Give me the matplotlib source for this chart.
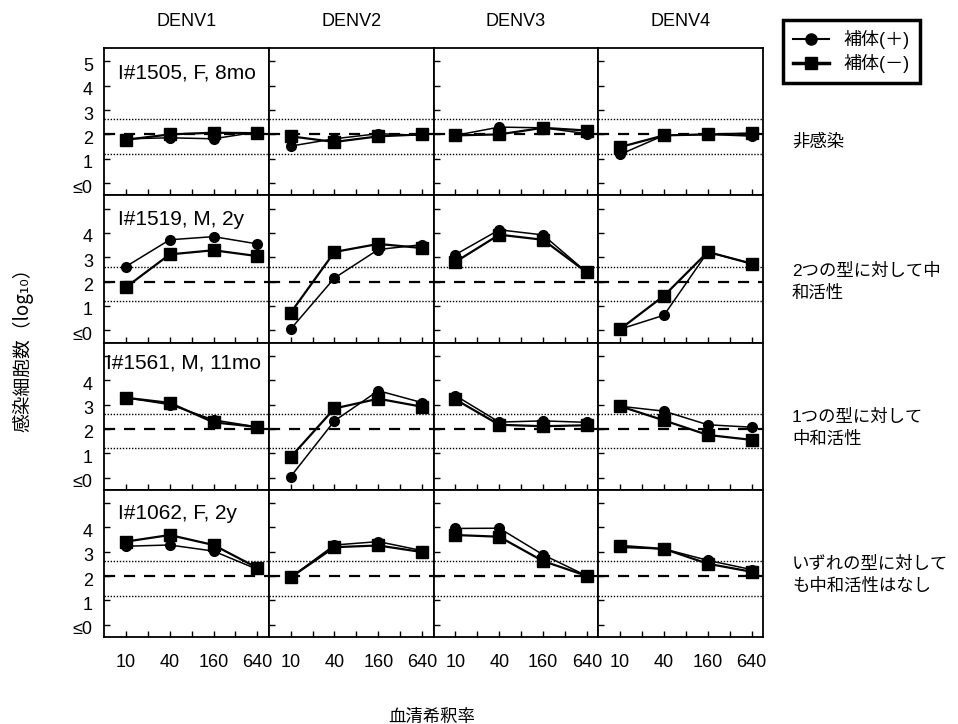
import matplotlib
matplotlib.use('Agg')
import matplotlib.pyplot as plt
from matplotlib.lines import Line2D
from matplotlib.transforms import ScaledTranslation

plt.rcParams['font.family'] = ['Liberation Sans', 'Noto Sans CJK JP', 'DejaVu Sans']

# ---- data ----
dilutions = ['10', '40', '160', '640']
serotypes = ['DENV1', 'DENV2', 'DENV3', 'DENV4']
patients = ['I#1505, F, 8mo', 'I#1519, M, 2y', 'I#1561, M, 11mo', 'I#1062, F, 2y']
row_notes = ['非感染', '2つの型に対して中\n和活性', '1つの型に対して\n中和活性',
             'いずれの型に対して\nも中和活性はなし']
legend_labels = ['補体(＋)', '補体(－)']
ytick_vals = [0, 1, 2, 3, 4, 5]
ytick_labels_top = ['≤0', '1', '2', '3', '4', '5']
ytick_labels_rest = ['≤0', '1', '2', '3', '4', '']
cutoff = 2.0
band_hi = 2.62
band_lo = 1.2

# complement (+) : circles ; complement (-) : squares ; per serotype DENV1..4
plus_1505 = [[1.82, 1.86, 1.82, 2.10], [1.52, 1.82, 2.03, 1.96],
             [1.96, 2.30, 2.27, 2.03], [1.18, 1.96, 2.00, 1.93]]
minus_1505 = [[1.78, 2.00, 2.07, 2.05], [1.92, 1.69, 1.92, 2.00],
              [1.96, 2.00, 2.27, 2.16], [1.48, 1.96, 2.00, 2.04]]

plus_1519 = [[2.62, 3.72, 3.85, 3.55], [0.05, 2.15, 3.32, 3.52],
             [3.11, 4.13, 3.92, 2.38], [0.05, 0.62, 3.22, 2.74]]
minus_1519 = [[1.77, 3.12, 3.29, 3.05], [0.72, 3.22, 3.55, 3.38],
              [2.81, 3.93, 3.72, 2.38], [0.05, 1.42, 3.22, 2.74]]

plus_1561 = [[3.28, 3.00, 2.37, 2.08], [0.04, 2.33, 3.57, 3.08],
             [3.37, 2.28, 2.33, 2.27], [2.93, 2.73, 2.17, 2.07]]
minus_1561 = [[3.28, 3.07, 2.27, 2.08], [0.84, 2.84, 3.24, 2.91],
              [3.21, 2.17, 2.11, 2.15], [2.93, 2.35, 1.75, 1.55]]

plus_1062 = [[3.23, 3.28, 3.03, 2.28], [1.95, 3.28, 3.42, 3.05],
             [3.96, 3.97, 2.88, 2.01], [3.18, 3.12, 2.65, 2.27]]
minus_1062 = [[3.42, 3.69, 3.28, 2.34], [1.95, 3.19, 3.26, 2.99],
              [3.69, 3.62, 2.62, 2.01], [3.25, 3.12, 2.51, 2.18]]

plus_rows = [plus_1505, plus_1519, plus_1561, plus_1062]
minus_rows = [minus_1505, minus_1519, minus_1561, minus_1062]

# ---- figure ----
W, H = 958, 724
fig = plt.figure(figsize=(W / 100, H / 100), dpi=100)
left, right, top, bottom = 104 / W, 763 / W, 1 - 48 / H, 1 - 637 / H
gs = fig.add_gridspec(4, 4, left=left, right=right, top=top, bottom=bottom,
                      wspace=0, hspace=0)

xpos = list(range(len(dilutions)))
label_y = [0.83, 0.835, 0.86, 0.84]
label_x = [0.085, 0.085, 0.01, 0.085]
shift_down = ScaledTranslation(0, -3 / 100, fig.dpi_scale_trans)

for r in range(4):
    for c in range(4):
        ax = fig.add_subplot(gs[r, c])
        ax.set_xlim(-0.5, 3.26)
        ax.set_ylim(-0.5, 5.55)
        ax.axhline(cutoff, color='black', lw=1.6, ls=(0, (5, 4)), zorder=1)
        ax.axhline(band_hi, color='black', lw=1.0, ls=(0, (1, 1.2)), zorder=1)
        ax.axhline(band_lo, color='black', lw=1.0, ls=(0, (1, 1.2)), zorder=1)
        ax.plot(xpos, plus_rows[r][c], color='black', lw=1.1, marker='o',
                ms=7, zorder=3)
        ax.plot(xpos, minus_rows[r][c], color='black', lw=1.6, marker='s',
                ms=8, zorder=3)
        for s in ax.spines.values():
            s.set_linewidth(1.3)
        ax.set_xticks(xpos)
        ax.set_xticks([0.5, 1.5, 2.5], minor=True)
        ax.set_yticks(ytick_vals)
        ax.tick_params(axis='both', which='both', direction='in', length=4,
                       width=1.0, top=False, right=False, labelsize=13)
        if c == 0:
            ax.set_yticklabels(ytick_labels_top if r == 0 else ytick_labels_rest)
            ax.tick_params(axis='y', pad=8)
            for lab in ax.get_yticklabels():
                lab.set_transform(lab.get_transform() + shift_down)
        else:
            ax.set_yticklabels([])
        if r == 3:
            ax.set_xticklabels(dilutions)
            ax.tick_params(axis='x', pad=12)
        else:
            ax.set_xticklabels([])
        if c == 0:
            ax.text(label_x[r], label_y[r], patients[r], transform=ax.transAxes,
                    fontsize=15, ha='left', va='center')
        if r == 0:
            ax.text(0.5, 1 + 26 / 147, serotypes[c], transform=ax.transAxes,
                    fontsize=13, ha='center', va='center')

# right-hand notes
note_y = [142, 282, 428, 575]
for r in range(4):
    fig.text(792 / W, 1 - note_y[r] / H, row_notes[r], fontsize=12.5,
             ha='left', va='center', linespacing=1.45)

# legend
handles = [Line2D([], [], color='black', lw=1.5, marker='o', ms=8),
           Line2D([], [], color='black', lw=2.5, marker='s', ms=9)]
leg = fig.legend(handles, legend_labels, loc='upper left',
                 bbox_to_anchor=(783 / W, 1 - 20 / H), fontsize=13,
                 frameon=True, fancybox=False, edgecolor='black',
                 framealpha=1, handlelength=2.0, borderpad=0.55,
                 labelspacing=0.3, handletextpad=0.8, borderaxespad=0)
leg.get_frame().set_linewidth(2.5)

# axis titles
fig.text(23 / W, 1 - 345 / H, '感染細胞数（log₁₀）', rotation=90,
         fontsize=13.5, ha='center', va='center',
         family=['Noto Sans CJK JP', 'DejaVu Sans'])
fig.text(432 / W, 1 - 717 / H, '血清希釈率', fontsize=12.5, ha='center',
         va='center')

fig.savefig('out.png', dpi=100)
